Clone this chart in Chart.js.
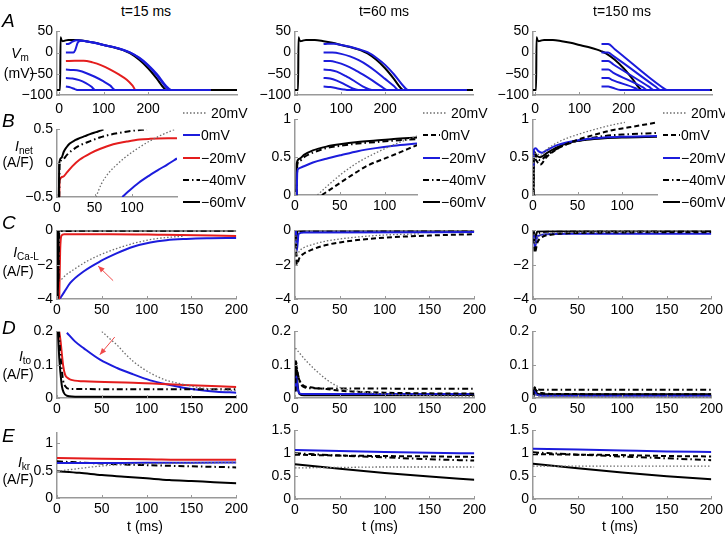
<!DOCTYPE html>
<html>
<head>
<meta charset="utf-8">
<script src="https://cdn.jsdelivr.net/npm/chart.js@4.4.1/dist/chart.umd.min.js"></script>
<style>
  body { margin: 0; background: #fff; font-family: "Liberation Sans", "DejaVu Sans", sans-serif; }
  #fig { position: relative; width: 725px; height: 537px; overflow: hidden; color: #000; }
  #fig canvas { position: absolute; }
  .c, .leg, .letter { font-family: "Liberation Sans", "DejaVu Sans", sans-serif; }
  .c { position: absolute; font-size: 14px; line-height: 1; white-space: nowrap; transform: translate(-50%, -50%); }
  .c sub { font-size: 10px; font-style: normal; vertical-align: -3px; }
  .letter { position: absolute; font-size: 19px; font-style: italic; line-height: 1; }
  .leg { position: absolute; font-size: 14px; line-height: 1; white-space: nowrap; }
</style>
</head>
<body>
<div id="fig"></div>
<script>
// tick labels
const ticksA_x = [0, 100, 200];
const ticksA_y = [-100, -50, 0, 50];
const ticksB_x = [0, 50, 100];
const ticksB1_y = [-0.5, 0, 0.5];
const ticksB_y = [0, 0.5, 1];
const ticksT_x = [0, 50, 100, 150, 200];
const ticksC_y = [-4, -2, 0];
const ticksD_y = [0, 0.1, 0.2];
const ticksE1_y = [0, 0.5, 1];
const ticksE_y = [0, 0.5, 1, 1.5];

const colTitles = ['t=15 ms', 't=60 ms', 't=150 ms'];
const clampLabels = ['20mV', '0mV', '\u221220mV', '\u221240mV', '\u221260mV'];

// A: membrane potential (ms, mV)
const vmControl = [[-5,-88],[2,-88],[3,36],[5,30],[8,27],[12,28],[20,30],[40,30],[60,27],[80,23],[100,18],[120,13],[140,7],[150,3],[160,-2],[180,-17],[200,-37],[220,-62],[235,-83],[241,-88],[400,-88]];
const vm15_p20 = [[15,20],[22,21],[30,26],[40,29],[60,27],[80,23],[100,18],[120,13],[140,8],[160,0],[180,-13],[200,-31],[220,-54],[238,-79],[248,-88],[340,-88]];
const vm15_0 = [[15,0],[32,0],[36,6],[42,24],[50,28],[70,25],[100,18],[130,11],[160,0],[180,-12],[200,-29],[220,-51],[240,-78],[252,-88],[340,-88]];
const vm15_m20 = [[15,-20],[35,-19],[55,-19],[75,-23],[95,-30],[115,-40],[135,-52],[152,-64],[165,-78],[172,-88],[340,-88]];
const vm15_m40 = [[15,-40],[30,-41],[45,-43],[60,-48],[80,-57],[100,-68],[115,-78],[126,-88],[340,-88]];
const vm15_m60 = [[15,-60],[30,-61],[45,-65],[60,-72],[72,-80],[81,-88],[340,-88]];
const vm15_m80 = [[15,-80],[25,-82],[35,-86],[40,-88],[340,-88]];

const vm60_p20 = [[60,20],[70,21],[85,21],[100,18],[120,14],[140,8],[160,1],[180,-12],[200,-29],[220,-51],[240,-77],[252,-88],[385,-88]];
const vm60_0 = [[60,0],[80,0],[100,-3],[120,-9],[140,-18],[160,-30],[180,-45],[200,-62],[220,-79],[230,-88],[385,-88]];
const vm60_m20 = [[60,-20],[75,-20],[90,-23],[110,-30],[130,-40],[150,-52],[170,-65],[190,-79],[204,-88],[385,-88]];
const vm60_m40 = [[60,-40],[75,-41],[90,-45],[110,-55],[130,-67],[150,-80],[170,-88],[385,-88]];
const vm60_m60 = [[60,-60],[75,-61],[90,-66],[110,-76],[125,-84],[139,-88],[385,-88]];
const vm60_m80 = [[60,-80],[75,-81],[90,-84],[105,-87],[113,-88],[385,-88]];

const vm150_p20 = [[150,20],[165,20],[180,8],[285,-80],[298,-88],[395,-88]];
const vm150_0 = [[150,0],[165,0],[178,-9],[272,-80],[283,-88],[395,-88]];
const vm150_m20 = [[150,-20],[165,-20],[177,-28],[258,-81],[268,-88],[395,-88]];
const vm150_m40 = [[150,-40],[165,-40],[176,-47],[244,-82],[253,-88],[395,-88]];
const vm150_m60 = [[150,-60],[165,-60],[175,-65],[227,-84],[234,-88],[395,-88]];
const vm150_m80 = [[150,-80],[165,-80],[175,-83],[193,-88],[395,-88]];

// B: net current (A/F)
const inet15_p20 = [[52,-0.5],[59,-0.31],[70,-0.13],[80,-0.02],[89,0.07],[105,0.2],[124,0.33],[140,0.42],[157,0.5]];
const inet15_0 = [[87,-0.5],[95,-0.42],[109,-0.29],[122,-0.19],[135,-0.1],[147,-0.02],[160,0.07]];
const inet15_m20 = [[3,-0.5],[3.5,-0.25],[8,-0.2],[13,-0.14],[20,-0.05],[30,0.05],[45,0.15],[57,0.21],[75,0.28],[93,0.32],[110,0.35],[124,0.36],[160,0.37]];
const inet15_m40 = [[3,-0.5],[3.5,-0.02],[8,0.06],[13,0.12],[20,0.19],[30,0.26],[45,0.33],[57,0.38],[70,0.42],[84,0.45],[100,0.48],[120,0.5]];
const inet15_m60 = [[2.5,-0.5],[3,0],[6,0.08],[9,0.17],[13,0.24],[17,0.29],[24,0.34],[30,0.37],[37,0.4],[44,0.43],[52,0.46],[60,0.49],[62,0.5]];

const inet60_p20 = [[25,0],[37,0.13],[52,0.28],[70,0.43],[89,0.55],[111,0.67],[136,0.78]];
const inet60_0 = [[30,0],[44,0.11],[63,0.26],[81,0.39],[104,0.5],[136,0.66]];
const inet60_m20 = [[2,0],[2.5,0.3],[4,0.35],[10,0.38],[20,0.43],[35,0.48],[52,0.53],[70,0.58],[90,0.62],[110,0.65],[136,0.68]];
const inet60_m40 = [[2,0],[2.5,0.4],[5,0.45],[10,0.5],[20,0.56],[35,0.62],[50,0.65],[70,0.68],[90,0.7],[110,0.72],[136,0.74]];
const inet60_m60 = [[1.5,0],[2,0.42],[5,0.48],[10,0.53],[20,0.59],[35,0.64],[50,0.67],[70,0.7],[90,0.72],[110,0.74],[136,0.76]];

const inet150_p20 = [[0.5,0],[1,0.55],[4,0.55],[8,0.52],[15,0.6],[30,0.71],[50,0.8],[70,0.87],[90,0.93],[103,0.96]];
const inet150_0 = [[0.5,0],[1,0.5],[4,0.45],[8,0.4],[15,0.5],[30,0.63],[50,0.73],[70,0.8],[90,0.86],[110,0.9],[139,0.96]];
const inet150_m20 = [[0.5,0.35],[1,0.6],[3,0.62],[6,0.58],[10,0.56],[15,0.59],[25,0.65],[40,0.7],[60,0.74],[80,0.76],[100,0.77],[139,0.78]];
const inet150_m40 = [[0.5,0],[1,0.55],[4,0.5],[8,0.46],[15,0.52],[25,0.6],[40,0.68],[60,0.74],[80,0.78],[100,0.8],[139,0.82]];
const inet150_m60 = [[0.5,0],[1,0.58],[4,0.52],[8,0.5],[15,0.55],[25,0.62],[40,0.69],[60,0.73],[80,0.75],[100,0.76],[139,0.77]];

// C: L-type Ca current (A/F)
const ical15_p20 = [[5,-2.86],[10,-2.6],[18.5,-2.29],[33,-1.81],[48,-1.43],[67,-1.05],[85,-0.76],[107,-0.51],[130,-0.38],[140,-0.34]];
const ical15_0 = [[3,-4],[8,-3.6],[15,-3.05],[30,-2.38],[48,-1.81],[67,-1.33],[85,-0.95],[104,-0.7],[122,-0.57],[144,-0.5],[167,-0.46],[200,-0.44]];
const ical15_m20 = [[2.5,-4],[3.5,-1.2],[5,-0.3],[8,-0.22],[60,-0.22],[120,-0.26],[200,-0.32]];
const ical15_m40 = [[1,0],[1.5,-3],[2.5,-0.1],[5,-0.03],[200,-0.02]];
const ical15_m60 = [[0.5,0],[1,-4],[2,-0.05],[4,0],[200,0]];

const ical60_p20 = [[1,-0.3],[2,-1.5],[5,-1.2],[10,-1.0],[20,-0.82],[35,-0.62],[50,-0.5],[75,-0.36],[100,-0.27],[140,-0.2]];
const ical60_0 = [[1,-0.3],[2,-2],[5,-1.6],[10,-1.35],[20,-1.1],[35,-0.85],[50,-0.7],[75,-0.53],[100,-0.42],[150,-0.3],[200,-0.22]];
const ical60_m20 = [[1,0],[2,-1.2],[4,-0.2],[10,-0.12],[200,-0.1]];
const ical60_m40 = [[1,0],[2,-0.8],[4,-0.1],[10,-0.05],[200,-0.04]];
const ical60_m60 = [[0.5,0],[1.5,-0.4],[3,0],[200,0]];

const ical150_p20 = [[1,0],[2,-0.8],[5,-0.4],[15,-0.2],[40,-0.12],[140,-0.08]];
const ical150_0 = [[1,0],[2,-1.3],[5,-0.7],[10,-0.4],[20,-0.25],[40,-0.17],[80,-0.13],[200,-0.1]];
const ical150_m20 = [[1,0],[2,-1],[5,-0.35],[15,-0.22],[40,-0.2],[200,-0.2]];
const ical150_m40 = [[1,0],[2,-0.7],[5,-0.2],[20,-0.06],[200,-0.05]];
const ical150_m60 = [[1,0],[2,-0.5],[5,-0.05],[200,0]];

// D: transient outward current (A/F)
const ito15_p20 = [[50,0.2],[58,0.18],[67,0.159],[76,0.133],[85,0.11],[95,0.09],[104,0.075],[113,0.063],[122,0.053],[141,0.041],[159,0.031],[178,0.026],[200,0.022]];
const ito15_0 = [[11,0.196],[20,0.17],[30,0.149],[48,0.115],[67,0.09],[85,0.071],[104,0.053],[122,0.041],[141,0.031],[159,0.024],[178,0.019],[200,0.016]];
const ito15_m20 = [[2.5,0.2],[4,0.17],[5.5,0.13],[7,0.095],[9,0.07],[12,0.06],[15,0.055],[30,0.05],[85,0.046],[141,0.039],[200,0.033]];
const ito15_m40 = [[2,0.2],[3.5,0.14],[5.5,0.08],[7,0.05],[9,0.036],[15,0.027],[200,0.026]];
const ito15_m60 = [[1,0.2],[2.5,0.12],[3.7,0.08],[5.5,0.035],[7.4,0.017],[11,0.007],[25,0.004],[200,0.003]];

const ito60_p20 = [[0.5,0.15],[5,0.135],[13,0.11],[24,0.081],[35,0.056],[46,0.037],[52,0.03],[70,0.02],[100,0.012],[140,0.008],[200,0.005]];
const ito60_0 = [[0.5,0.02],[1,0.1],[3,0.07],[8,0.04],[17,0.032],[35,0.027],[50,0.022],[100,0.016],[200,0.013]];
const ito60_m20 = [[0.5,0.02],[1.5,0.065],[3,0.03],[5,0.014],[10,0.012],[200,0.012]];
const ito60_m40 = [[0.5,0.02],[1,0.11],[3,0.075],[6,0.045],[10,0.033],[20,0.029],[200,0.028]];
const ito60_m60 = [[0.5,0.02],[1,0.11],[2.5,0.05],[5,0.012],[10,0.008],[200,0.009]];

const ito150_p20 = [[0.5,0.005],[1.5,0.012],[5,0.006],[200,0.003]];
const ito150_0 = [[0.5,0.005],[1.5,0.03],[4,0.022],[10,0.015],[30,0.012],[200,0.011]];
const ito150_m20 = [[0.5,0.005],[1.5,0.02],[4,0.01],[10,0.007],[200,0.007]];
const ito150_m40 = [[0.5,0.005],[1.5,0.032],[4,0.027],[8,0.025],[200,0.025]];
const ito150_m60 = [[0.5,0.005],[1.5,0.03],[4,0.015],[8,0.011],[200,0.011]];

// E: rapid delayed rectifier current (A/F)
const ikr15_p20 = [[0,0.49],[20,0.53],[40,0.57],[60,0.6],[80,0.62],[110,0.63],[150,0.64],[200,0.65]];
const ikr15_0 = [[0,0.64],[50,0.64],[100,0.645],[150,0.645],[200,0.65]];
const ikr15_m20 = [[0,0.73],[50,0.72],[100,0.71],[150,0.7],[200,0.7]];
const ikr15_m40 = [[0,0.67],[50,0.63],[100,0.6],[150,0.58],[200,0.56]];
const ikr15_m60 = [[0,0.49],[25,0.46],[50,0.42],[75,0.39],[100,0.36],[125,0.33],[150,0.31],[175,0.29],[200,0.27]];

const ikr60_p20 = [[0,0.68],[50,0.69],[100,0.7],[150,0.7],[200,0.7]];
const ikr60_0 = [[0,0.97],[50,0.95],[100,0.94],[150,0.93],[200,0.92]];
const ikr60_m20 = [[0,1.07],[50,1.05],[100,1.03],[150,1.01],[200,1.0]];
const ikr60_m40 = [[0,1.0],[50,0.95],[100,0.91],[150,0.87],[200,0.84]];
const ikr60_m60 = [[0,0.76],[50,0.66],[100,0.57],[150,0.49],[200,0.42]];

const ikr150_p20 = [[0,0.72],[100,0.72],[200,0.72]];
const ikr150_0 = [[0,0.98],[50,0.97],[100,0.96],[150,0.94],[200,0.93]];
const ikr150_m20 = [[0,1.1],[50,1.08],[100,1.06],[150,1.04],[200,1.03]];
const ikr150_m40 = [[0,1.02],[50,0.97],[100,0.93],[150,0.89],[200,0.85]];
const ikr150_m60 = [[0,0.77],[50,0.67],[100,0.58],[150,0.5],[200,0.43]];

// red arrows (data coords) in C and D, first column
const arrowC = [[62.6, -2.93], [45.9, -2.08]];
const arrowD = [[64.4, 0.183], [47.8, 0.13]];

// ---- drawing ----
const fig = document.getElementById('fig');
Chart.defaults.font.family = '"Liberation Sans", "DejaVu Sans", sans-serif';
Chart.defaults.font.size = 14;
Chart.defaults.color = '#000';

const STY = {
  dot:     { borderColor: '#6e6e6e', borderWidth: 1.3, borderDash: [1.5, 2] },
  dash:    { borderColor: '#000', borderWidth: 2, borderDash: [5, 3] },
  dashdot: { borderColor: '#000', borderWidth: 2, borderDash: [6, 3, 1.5, 3] },
  black:   { borderColor: '#000', borderWidth: 2 },
  blue:    { borderColor: '#1c1cdc', borderWidth: 2 },
  red:     { borderColor: '#e41d1d', borderWidth: 2 }
};

const YW = 45, PT = 10, PR = 14, XH = 26;
const pts = arr => arr.map(p => ({ x: p[0], y: p[1] }));
const fmt = v => String(v).replace('-', '\u2212');

// MATLAB-like inward tick marks
const inTicks = {
  id: 'inTicks',
  afterDraw(chart) {
    const ctx = chart.ctx, a = chart.chartArea, { x, y } = chart.scales;
    ctx.save();
    ctx.strokeStyle = '#999';
    ctx.lineWidth = 1;
    x.ticks.forEach(t => {
      const p = Math.round(x.getPixelForValue(t.value)) + 0.5;
      ctx.beginPath(); ctx.moveTo(p, a.bottom); ctx.lineTo(p, a.bottom - 3); ctx.stroke();
    });
    y.ticks.forEach(t => {
      const p = Math.round(y.getPixelForValue(t.value)) + 0.5;
      ctx.beginPath(); ctx.moveTo(a.left, p); ctx.lineTo(a.left + 3, p); ctx.stroke();
    });
    ctx.restore();
  }
};

const arrowPlugin = {
  id: 'arrow',
  afterDatasetsDraw(chart, args, o) {
    if (!o || !o.from) return;
    const { x, y } = chart.scales, ctx = chart.ctx;
    const ax = x.getPixelForValue(o.from[0]), ay = y.getPixelForValue(o.from[1]);
    const bx = x.getPixelForValue(o.to[0]), by = y.getPixelForValue(o.to[1]);
    const ang = Math.atan2(by - ay, bx - ax);
    ctx.save();
    ctx.strokeStyle = ctx.fillStyle = '#f04a4a';
    ctx.lineWidth = 1;
    ctx.beginPath(); ctx.moveTo(ax, ay); ctx.lineTo(bx, by); ctx.stroke();
    ctx.beginPath(); ctx.moveTo(bx, by);
    ctx.lineTo(bx - 7 * Math.cos(ang - 0.4), by - 7 * Math.sin(ang - 0.4));
    ctx.lineTo(bx - 7 * Math.cos(ang + 0.4), by - 7 * Math.sin(ang + 0.4));
    ctx.closePath(); ctx.fill();
    ctx.restore();
  }
};

function axis(range, ticks, pad, fit) {
  return {
    type: 'linear', min: range[0], max: range[1],
    afterBuildTicks: s => { s.ticks = ticks.map(v => ({ value: v })); },
    afterFit: fit,
    grid: { display: false, drawTicks: false },
    border: { color: '#999', width: 1.5 },
    ticks: { padding: pad, maxRotation: 0, autoSkip: false, callback: fmt }
  };
}

// box = [plot left, plot right, plot top, plot bottom] in page pixels
function panel(box, xr, yr, xt, yt, sets, extra = {}) {
  const [x0, x1, y0, y1] = box;
  const cv = document.createElement('canvas');
  const w = x1 - x0 + YW + PR, h = y1 - y0 + PT + XH;
  cv.width = w; cv.height = h;
  cv.style.left = (x0 - YW) + 'px';
  cv.style.top = (y0 - PT) + 'px';
  cv.style.width = w + 'px';
  cv.style.height = h + 'px';
  fig.appendChild(cv);
  new Chart(cv, {
    type: 'line',
    data: {
      datasets: sets.map(([d, s]) => Object.assign({
        data: pts(d), pointRadius: 0, fill: false, cubicInterpolationMode: 'monotone'
      }, STY[s]))
    },
    options: {
      responsive: false, animation: false, events: [],
      layout: { padding: { top: PT, right: PR, left: 0, bottom: 0 } },
      plugins: {
        legend: { display: false }, tooltip: { enabled: false },
        arrow: extra.arrow ? { from: extra.arrow[0], to: extra.arrow[1] } : {}
      },
      scales: {
        x: axis(xr, xt, extra.xpad || 3, s => { s.height = XH; }),
        y: axis(yr, yt, 4, s => { s.width = YW; })
      }
    },
    plugins: [inTicks, arrowPlugin]
  });
}

const colX = [[57, 237], [295, 475], [533, 712]];
const colXA = [[57, 237], [295, 473], [533, 712]];
const tA = [-5, 400];
const tT = [0, 200];

// row A
panel([...colXA[0], 29, 95], tA, [-100, 50], ticksA_x, ticksA_y, [
  [vm15_p20, 'blue'], [vm15_0, 'blue'], [vm15_m40, 'blue'], [vm15_m60, 'blue'], [vm15_m80, 'blue'],
  [vm15_m20, 'red'], [vmControl, 'black']], { xpad: 6 });
panel([...colXA[1], 29, 95], tA, [-100, 50], ticksA_x, ticksA_y, [
  [vm60_p20, 'blue'], [vm60_0, 'blue'], [vm60_m20, 'blue'], [vm60_m40, 'blue'], [vm60_m60, 'blue'],
  [vm60_m80, 'blue'], [vmControl, 'black']], { xpad: 6 });
panel([...colXA[2], 29, 95], tA, [-100, 50], ticksA_x, ticksA_y, [
  [vm150_p20, 'blue'], [vm150_0, 'blue'], [vm150_m20, 'blue'], [vm150_m40, 'blue'], [vm150_m60, 'blue'],
  [vm150_m80, 'blue'], [vmControl, 'black']], { xpad: 6 });

// row B
panel([57, 177, 127, 197], [0, 160], [-0.5, 0.5], ticksB_x, ticksB1_y, [
  [inet15_p20, 'dot'], [inet15_m60, 'black'], [inet15_m40, 'dashdot'], [inet15_m20, 'red'], [inet15_0, 'blue']]);
panel([295, 417, 117, 195], [0, 136], [0, 1], ticksB_x, ticksB_y, [
  [inet60_p20, 'dot'], [inet60_0, 'dash'], [inet60_m20, 'blue'], [inet60_m40, 'dashdot'], [inet60_m60, 'black']]);
panel([533, 657, 117, 195], [0, 139], [0, 1], ticksB_x, ticksB_y, [
  [inet150_p20, 'dot'], [inet150_0, 'dash'], [inet150_m20, 'blue'], [inet150_m40, 'dashdot'], [inet150_m60, 'black']]);

// row C
panel([...colX[0], 228, 299], tT, [-4, 0], ticksT_x, ticksC_y, [
  [ical15_p20, 'dot'], [ical15_m60, 'black'], [ical15_m40, 'dashdot'], [ical15_m20, 'red'], [ical15_0, 'blue']], { arrow: arrowC });
panel([...colX[1], 228, 299], tT, [-4, 0], ticksT_x, ticksC_y, [
  [ical60_p20, 'dot'], [ical60_0, 'dash'], [ical60_m20, 'blue'], [ical60_m40, 'dashdot'], [ical60_m60, 'black']]);
panel([...colX[2], 228, 299], tT, [-4, 0], ticksT_x, ticksC_y, [
  [ical150_p20, 'dot'], [ical150_0, 'dash'], [ical150_m20, 'blue'], [ical150_m40, 'dashdot'], [ical150_m60, 'black']]);

// row D
panel([...colX[0], 329, 398], tT, [0, 0.2], ticksT_x, ticksD_y, [
  [ito15_p20, 'dot'], [ito15_m60, 'black'], [ito15_m40, 'dashdot'], [ito15_m20, 'red'], [ito15_0, 'blue']], { arrow: arrowD });
panel([...colX[1], 329, 398], tT, [0, 0.2], ticksT_x, ticksD_y, [
  [ito60_p20, 'dot'], [ito60_0, 'dash'], [ito60_m20, 'blue'], [ito60_m40, 'dashdot'], [ito60_m60, 'black']]);
panel([...colX[2], 329, 398], tT, [0, 0.2], ticksT_x, ticksD_y, [
  [ito150_p20, 'dot'], [ito150_0, 'dash'], [ito150_m20, 'blue'], [ito150_m40, 'dashdot'], [ito150_m60, 'black']]);

// row E
panel([...colX[0], 430, 498], tT, [0, 1.2], ticksT_x, ticksE1_y, [
  [ikr15_p20, 'dot'], [ikr15_0, 'blue'], [ikr15_m20, 'red'], [ikr15_m40, 'dashdot'], [ikr15_m60, 'black']]);
panel([...colX[1], 428, 499], tT, [0, 1.5], ticksT_x, ticksE_y, [
  [ikr60_p20, 'dot'], [ikr60_0, 'dash'], [ikr60_m20, 'blue'], [ikr60_m40, 'dashdot'], [ikr60_m60, 'black']]);
panel([...colX[2], 428, 499], tT, [0, 1.5], ticksT_x, ticksE_y, [
  [ikr150_p20, 'dot'], [ikr150_0, 'dash'], [ikr150_m20, 'blue'], [ikr150_m40, 'dashdot'], [ikr150_m60, 'black']]);

// ---- text ----
function text(cls, html, x, y) {
  const d = document.createElement('div');
  d.className = cls;
  d.innerHTML = html;
  d.style.left = x + 'px';
  d.style.top = y + 'px';
  fig.appendChild(d);
}
[146, 384, 622].forEach((x, i) => text('c', colTitles[i], x, 11));
[145, 380, 620].forEach(x => text('c', 't (ms)', x, 526));
[['A', 11], ['B', 111], ['C', 213], ['D', 318], ['E', 426]].forEach(([l, y]) => text('letter', l, 2, y));
text('c', '<i>V</i><sub>m</sub>', 20, 54);
text('c', '(mV)', 19, 73);
text('c', '<i>I</i><sub>net</sub>', 24, 147);
text('c', '(A/F)', 18, 162);
text('c', '<i>I</i><sub>Ca-L</sub>', 26, 253);
text('c', '(A/F)', 18, 271);
text('c', '<i>I</i><sub>to</sub>', 25, 357);
text('c', '(A/F)', 18, 374);
text('c', '<i>I</i><sub>kr</sub>', 24, 463);
text('c', '(A/F)', 18, 479);

// legends beside row B
const legendStyles = [
  ['dot', 'blue', 'red', 'dashdot', 'black'],
  ['dot', 'dash', 'blue', 'dashdot', 'black'],
  ['dot', 'dash', 'blue', 'dashdot', 'black']
];
const legendY = [113, 135, 158, 180, 202];
[183, 423, 663].forEach((left, c) => {
  clampLabels.forEach((lab, i) => {
    const s = STY[legendStyles[c][i]];
    const len = i === 0 ? 24 : 17;
    const yc = legendY[i];
    const svg = document.createElementNS('http://www.w3.org/2000/svg', 'svg');
    svg.setAttribute('width', len);
    svg.setAttribute('height', 6);
    svg.style.position = 'absolute';
    svg.style.left = left + 'px';
    svg.style.top = (yc - 3) + 'px';
    const ln = document.createElementNS('http://www.w3.org/2000/svg', 'line');
    ln.setAttribute('x1', 0); ln.setAttribute('y1', 3);
    ln.setAttribute('x2', len); ln.setAttribute('y2', 3);
    ln.setAttribute('stroke', s.borderColor);
    ln.setAttribute('stroke-width', s.borderWidth);
    if (s.borderDash) ln.setAttribute('stroke-dasharray', s.borderDash.join(' '));
    svg.appendChild(ln);
    fig.appendChild(svg);
    const d = document.createElement('div');
    d.className = 'leg';
    d.textContent = lab;
    d.style.left = (left + len + (i === 0 ? 4 : 1)) + 'px';
    d.style.top = (yc - 7) + 'px';
    fig.appendChild(d);
  });
});
</script>
</body>
</html>
